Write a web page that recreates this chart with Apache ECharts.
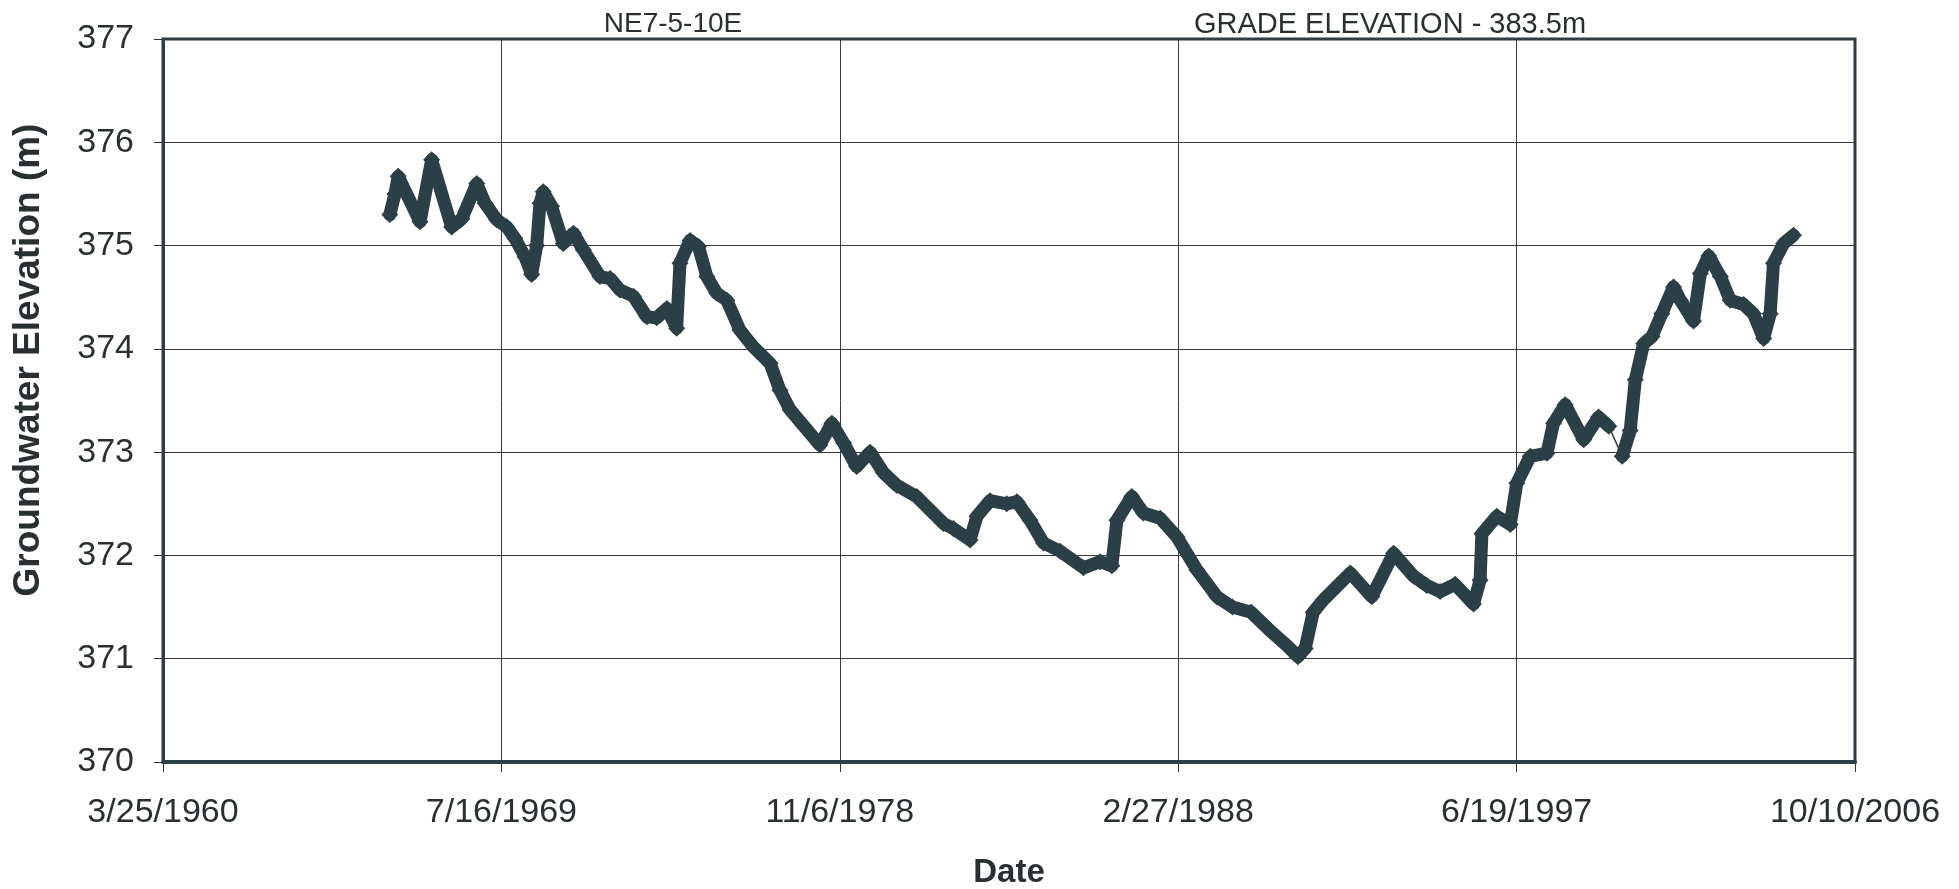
<!DOCTYPE html>
<html>
<head>
<meta charset="utf-8">
<script src="https://cdn.jsdelivr.net/npm/echarts@6/dist/echarts.min.js"></script>
<style>
html,body{margin:0;padding:0;background:#ffffff;}
#chart{width:1959px;height:889px;}
</style>
</head>
<body>
<div id="chart"></div>
<script>
const years = [
  1966.47,1966.61,1966.70,1967.30,1967.62,1968.17,1968.45,1968.86,1969.09,1969.41,
  1969.69,1969.91,1970.19,1970.37,1970.51,1970.60,1970.69,1970.92,1971.24,1971.52,
  1971.79,1972.25,1972.53,1972.80,1973.17,1973.54,1973.81,1974.09,1974.36,1974.45,
  1974.73,1974.96,1975.19,1975.46,1975.74,1976.10,1976.47,1976.93,1977.20,1977.48,
  1977.84,1978.30,1978.63,1978.95,1979.31,1979.68,1980.05,1980.41,1980.96,1981.33,
  1981.70,1981.97,1982.43,1982.62,1982.98,1983.44,1983.72,1984.08,1984.45,1984.91,
  1985.55,1986.01,1986.33,1986.47,1986.88,1987.20,1987.66,1988.12,1988.67,1989.22,
  1989.65,1990.16,1990.66,1991.17,1991.45,1991.65,1991.87,1992.15,1992.52,1992.89,
  1993.48,1994.08,1994.63,1994.99,1995.36,1995.77,1996.28,1996.46,1996.51,1996.92,
  1997.29,1997.47,1997.84,1998.30,1998.48,1998.80,1999.31,1999.72,2000.00,
  2000.37,2000.59,2000.73,2000.96,2001.19,2001.46,2001.78,2001.97,2002.33,2002.52,
  2002.75,2003.07,2003.34,2003.71,2003.98,2004.26,2004.44,2004.53,2004.81,2005.08
];
// Groundwater elevation (m)
const levels = [
  375.30,375.50,375.67,375.23,375.83,375.18,375.26,375.60,375.41,375.25,
  375.18,375.07,374.89,374.72,375.00,375.41,375.52,375.38,375.02,375.12,
  374.96,374.70,374.68,374.57,374.51,374.31,374.30,374.39,374.20,374.83,
  375.05,374.99,374.70,374.54,374.47,374.18,374.02,373.86,373.60,373.41,
  373.26,373.07,373.28,373.09,372.86,373.00,372.80,372.68,372.57,372.44,
  372.31,372.26,372.15,372.38,372.53,372.50,372.52,372.34,372.12,372.04,
  371.88,371.94,371.90,372.34,372.57,372.41,372.36,372.18,371.86,371.60,
  371.50,371.45,371.28,371.12,371.02,371.10,371.45,371.57,371.70,371.83,
  371.60,372.02,371.80,371.71,371.65,371.72,371.53,371.76,372.21,372.38,
  372.30,372.70,372.96,372.99,373.28,373.46,373.12,373.34,373.25,
  372.96,373.21,373.70,374.05,374.12,374.34,374.60,374.47,374.27,374.73,
  374.90,374.70,374.47,374.43,374.34,374.10,374.34,374.83,375.02,375.10
];
// Index after which the record has a gap bridged by a thin connector
const gapAfterIndex = 98;

const tickLabels = ["3/25/1960","7/16/1969","11/6/1978","2/27/1988","6/19/1997","10/10/2006"];
const yTicks = [370,371,372,373,374,375,376,377];
const titleLeft = "NE7-5-10E";
const titleRight = "GRADE ELEVATION - 383.5m";

// days since 3/25/1960 (axis origin)
function toDays(y){ return (y - 1960) * 365.25 - 84; }

const mainData = [];
years.forEach((y,i)=>{
  mainData.push([toDays(y), levels[i]]);
  if(i === gapAfterIndex) mainData.push([toDays(y)+1, null]);
});
const gapData = [
  [toDays(years[gapAfterIndex]), levels[gapAfterIndex]],
  [toDays(years[gapAfterIndex+1]), levels[gapAfterIndex+1]]
];

const ink = '#2a3f46';
const txt = '#2a2f31';
const chart = echarts.init(document.getElementById('chart'), null, {renderer:'canvas'});
chart.setOption({
  animation:false,
  backgroundColor:'#ffffff',
  title:[
    {text:titleLeft, left:668, top:5, textAlign:'center',
     textStyle:{fontFamily:'Liberation Sans',fontSize:28,fontWeight:'normal',color:txt}},
    {text:titleRight, left:1385, top:5, textAlign:'center',
     textStyle:{fontFamily:'Liberation Sans',fontSize:29,fontWeight:'normal',color:txt}}
  ],
  grid:{left:163,right:104,top:39,bottom:127,show:true,borderColor:ink,borderWidth:3,
        backgroundColor:'transparent',containLabel:false,outerBoundsMode:'none'},
  xAxis:{
    type:'value', min:0, max:17000, interval:3400,
    name:'Date', nameLocation:'middle', nameGap:94,
    nameTextStyle:{fontFamily:'Liberation Sans',fontSize:33,fontWeight:'bold',color:txt},
    axisLine:{show:true,lineStyle:{color:ink,width:4}},
    axisTick:{show:true,length:10,lineStyle:{color:'#333',width:1}},
    axisLabel:{margin:34,fontFamily:'Liberation Sans',fontSize:34,color:txt,
      formatter:(v)=>tickLabels[Math.round(v/3400)] || ''},
    splitLine:{show:true,lineStyle:{color:'#3a3a3a',width:1}}
  },
  yAxis:{
    type:'value', min:yTicks[0], max:yTicks[yTicks.length-1], interval:1,
    axisLine:{show:true,lineStyle:{color:ink,width:3}},
    axisTick:{show:true,length:9,lineStyle:{color:'#333',width:1}},
    axisLabel:{margin:29,fontFamily:'Liberation Sans',fontSize:34,color:txt},
    splitLine:{show:true,lineStyle:{color:'#3a3a3a',width:1}}
  },
  graphic:[{
    type:'text', x:29, y:360, rotation:Math.PI/2,
    style:{text:'Groundwater Elevation (m)',fontFamily:'Liberation Sans',fontSize:37,fontWeight:'bold',
      fill:txt,textAlign:'center',textVerticalAlign:'middle'}
  }],
  series:[
    {type:'line', data:mainData, connectNulls:false, symbol:'diamond', symbolSize:17, showSymbol:true,
     lineStyle:{color:ink,width:13,join:'round',cap:'round'}, itemStyle:{color:ink}, z:3},
    {type:'line', data:gapData, symbol:'none', lineStyle:{color:ink,width:1.5}, z:2}
  ]
});
</script>
</body>
</html>
